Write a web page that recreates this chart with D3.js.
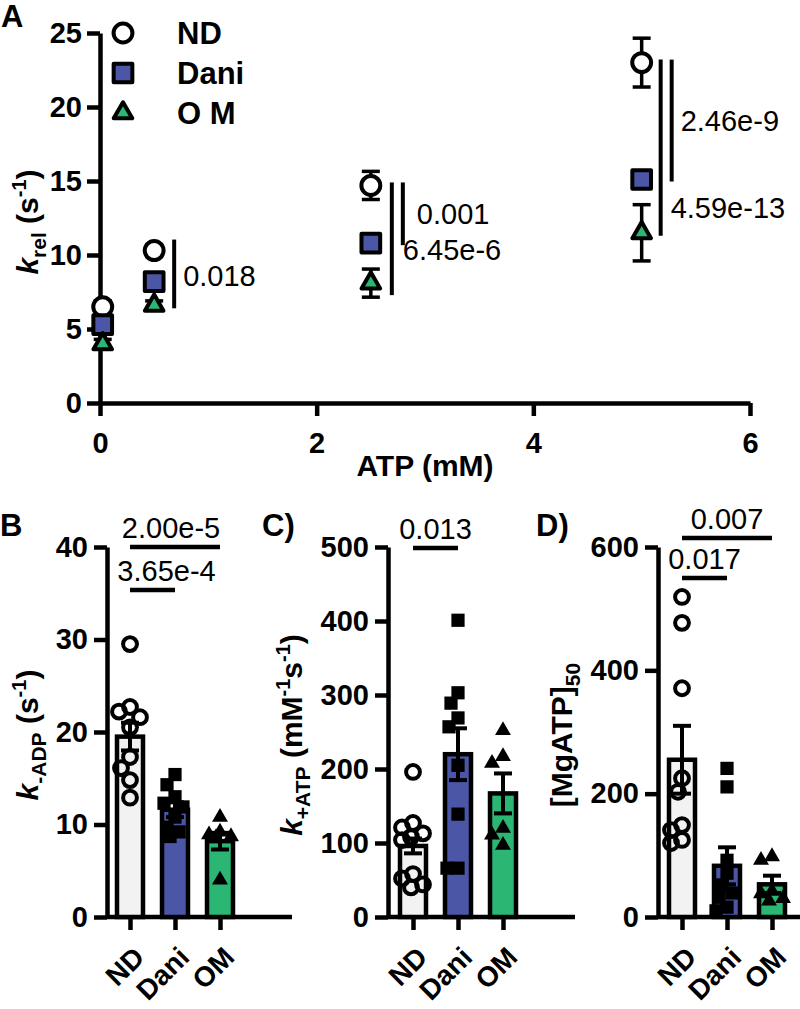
<!DOCTYPE html>
<html><head><meta charset="utf-8">
<script src="https://cdn.jsdelivr.net/npm/d3@7"></script>
<style>
body{margin:0;background:#fff}
svg{display:block}
text{font-family:"Liberation Sans",Arial,Helvetica,sans-serif}
</style>
</head><body>
<svg id="chart" width="800" height="1009"></svg>
<script>
// ---------------- DATA ----------------
const groups = ["ND", "Dani", "OM"];
const groupColors = ["#f2f2f2", "#4b56a6", "#2bb673"];

// Panel A: k_rel vs ATP
const atpMM = [0.025, 0.5, 2.5, 5];
const krelND = [6.5, 10.3, 14.7, 23.0];
const krelNDsem = [0.4, 0.4, 0.95, 1.65];
const krelDani = [5.3, 8.2, 10.8, 15.1];
const krelDaniSem = [0.3, 0.4, 0.4, 0.4];
const krelOM = [4.0, 6.6, 8.1, 11.5];
const krelOMsem = [0.3, 0.3, 0.95, 1.9];
const yTicksA = [0, 5, 10, 15, 20, 25];
const xTicksA = [0, 2, 4, 6];
const sigA = [
  {atp: 0.5, vs: "OM", p: "0.018"},
  {atp: 2.5, vs: "OM", p: "6.45e-6"},
  {atp: 2.5, vs: "Dani", p: "0.001"},
  {atp: 5, vs: "OM", p: "4.59e-13"},
  {atp: 5, vs: "Dani", p: "2.46e-9"}
];

// Panel B: k-ADP
const kADP_ND = [29.5, 22.7, 22.2, 21.6, 20.5, 17.3, 16.1, 14.8, 12.9];
const kADP_Dani = [15.4, 14.3, 13.0, 12.3, 11.9, 10.8, 9.7, 9.2, 8.7];
const kADP_OM = [10.8, 9.2, 8.9, 8.7, 8.6, 4.0];
const kADPmean = [19.5, 11.6, 8.2];
const kADPsem = [1.5, 0.8, 0.9];
const yTicksB = [0, 10, 20, 30, 40];
const sigB = [
  {a: "ND", b: "OM", p: "2.00e-5"},
  {a: "ND", b: "Dani", p: "3.65e-4"}
];

// Panel C: k+ATP
const kATP_ND = [196, 127, 121, 113, 108, 104, 58, 52, 44, 40];
const kATP_Dani = [401, 303, 289, 269, 257, 205, 139, 66, 66];
const kATP_OM = [252, 217, 208, 120, 111, 97];
const kATPmean = [96, 220, 167];
const kATPsem = [10, 35, 27];
const yTicksC = [0, 100, 200, 300, 400, 500];
const sigC = [
  {a: "ND", b: "Dani", p: "0.013"}
];

// Panel D: [MgATP]50
const mg_ND = [519, 477, 371, 225, 203, 149, 141, 125, 120];
const mg_Dani = [241, 211, 92, 71, 52, 39, 32, 16, 10];
const mg_OM = [98, 92, 42, 38, 30, 26];
const mgMean = [255, 83, 53];
const mgSem = [55, 30, 14];
const yTicksD = [0, 200, 400, 600];
const sigD = [
  {a: "ND", b: "OM", p: "0.007"},
  {a: "ND", b: "Dani", p: "0.017"}
];

// ---------------- DRAWING ----------------
const svg = d3.select("#chart");
const SW = 4.5;          // axis stroke
const TICK_FONT = 29;
const TITLE_FONT = 30;

function styleAxis(g) {
  g.selectAll("path.domain").attr("stroke", "#000").attr("stroke-width", SW);
  g.selectAll(".tick line").attr("stroke", "#000").attr("stroke-width", SW);
  g.selectAll(".tick text").attr("fill", "#000")
    .style("font-size", TICK_FONT + "px").style("font-weight", "bold")
    .style("font-family", '"Liberation Sans",Arial,sans-serif');
}

function panelLetter(txt, x, y) {
  svg.append("text").attr("x", x).attr("y", y).text(txt)
    .style("font-size", "31px").style("font-weight", "bold");
}

// rotated axis title with tspans
function yTitle(x, y, parts) {
  const t = svg.append("text")
    .attr("transform", `translate(${x},${y}) rotate(-90)`)
    .attr("text-anchor", "middle")
    .style("font-size", TITLE_FONT + "px").style("font-weight", "bold");
  let shift = 0;
  parts.forEach(p => {
    const ts = t.append("tspan").text(p.t);
    let target = 0;
    if (p.s === "sub") { target = 8; ts.style("font-size", "21px"); }
    else if (p.s === "sup") { target = -12; ts.style("font-size", "20px"); }
    else if (p.s === "i") { ts.style("font-style", "italic"); }
    if (target !== shift) { ts.attr("dy", target - shift); shift = target; }
  });
}

// ---------- Panel A ----------
const xA = d3.scaleLinear().domain([0, 6]).range([100, 750]);
const yA = d3.scaleLinear().domain([0, 25]).range([403, 33]);

const gAy = svg.append("g").attr("transform", `translate(${xA(0)},0)`)
  .call(d3.axisLeft(yA).tickValues(yTicksA).tickFormat(d3.format("d")).tickSize(13).tickSizeOuter(0).tickPadding(5));
styleAxis(gAy);
const gAx = svg.append("g").attr("transform", `translate(0,${yA(0)})`)
  .call(d3.axisBottom(xA).tickValues(xTicksA).tickFormat(d3.format("d")).tickSize(13).tickSizeOuter(0).tickPadding(16));
styleAxis(gAx);

panelLetter("A", 1, 27);
yTitle(38, 222, [{t: "k", s: "i"}, {t: "rel", s: "sub"}, {t: " (s", s: ""}, {t: "-1", s: "sup"}, {t: ")", s: ""}]);
svg.append("text").attr("x", (xA(0) + xA(6)) / 2).attr("y", 476).attr("text-anchor", "middle")
  .text("ATP (mM)").style("font-size", TITLE_FONT + "px").style("font-weight", "bold");

const seriesA = [
  {name: "ND", v: krelND, e: krelNDsem, sym: d3.symbolCircle, size: 280, fill: "#ffffff"},
  {name: "Dani", v: krelDani, e: krelDaniSem, sym: d3.symbolSquare, size: 350, fill: groupColors[1]},
  {name: "OM", v: krelOM, e: krelOMsem, sym: d3.symbolTriangle, size: 150, fill: groupColors[2]}
];

// error bars (under markers)
seriesA.forEach(s => {
  const g = svg.append("g").attr("stroke", "#000").attr("stroke-width", 3.5);
  atpMM.forEach((a, i) => {
    const x = xA(a), y1 = yA(s.v[i] + s.e[i]), y2 = yA(s.v[i] - s.e[i]);
    g.append("line").attr("x1", x).attr("x2", x).attr("y1", y1).attr("y2", y2);
    g.append("line").attr("x1", x - 9).attr("x2", x + 9).attr("y1", y1).attr("y2", y1);
    g.append("line").attr("x1", x - 9).attr("x2", x + 9).attr("y1", y2).attr("y2", y2);
  });
});
// markers
seriesA.forEach(s => {
  svg.append("g").selectAll("path").data(atpMM).join("path")
    .attr("transform", (a, i) => `translate(${xA(a)},${yA(s.v[i])})`)
    .attr("d", d3.symbol().type(s.sym).size(s.size))
    .attr("fill", s.fill).attr("stroke", "#000").attr("stroke-width", 4)
    .attr("stroke-linejoin", "round");
});

// legend
seriesA.forEach((s, i) => {
  const ly = 33 + i * 40;
  svg.append("path").attr("transform", `translate(123,${ly})`)
    .attr("d", d3.symbol().type(s.sym).size(s.size))
    .attr("fill", s.fill).attr("stroke", "#000").attr("stroke-width", 4).attr("stroke-linejoin", "round");
  svg.append("text").attr("x", 177).attr("y", ly).attr("dy", "0.36em")
    .text(s.name === "OM" ? "O M" : s.name)
    .style("font-size", "31px").style("font-weight", "bold");
});

// significance in A
const byName = {ND: krelND, Dani: krelDani, OM: krelOM};
const sigAlayout = {"0.018": {dx: 20, lab: 8.6, lx: 9}, "6.45e-6": {dx: 21, lab: 10.35, lx: 11},
  "0.001": {dx: 32, lab: 12.8, lx: 14}, "4.59e-13": {dx: 19, lab: 13.2, lx: 10}, "2.46e-9": {dx: 30, lab: 19.1, lx: 9}};
sigA.forEach(s => {
  const i = atpMM.indexOf(s.atp);
  const L = sigAlayout[s.p];
  const x = xA(s.atp) + L.dx;
  const top = s.atp === 0.5 ? yA(byName.ND[i]) - 11 : yA(byName.ND[i]) - 3;
  const bot = yA(byName[s.vs][i]) + (s.vs === "OM" ? (s.atp === 2.5 ? 12 : 3) : 2);
  svg.append("line").attr("x1", x).attr("x2", x).attr("y1", top).attr("y2", bot)
    .attr("stroke", "#000").attr("stroke-width", 4);
  svg.append("text").attr("x", x + L.lx).attr("y", yA(L.lab)).attr("dy", "0.36em").text(s.p)
    .style("font-size", "29px");
});

// ---------- Bar panels ----------
function beeswarm(values, y, cx, minDist, maxOff) {
  const placed = [];
  const order = values.map((v, i) => i).sort((a, b) => values[b] - values[a]);
  const out = new Array(values.length);
  order.forEach(i => {
    const py = y(values[i]);
    let best = 0, bestScore = -1;
    for (let k = 0; k <= maxOff * 2; k++) {
      const off = (k % 2 === 0 ? 1 : -1) * Math.ceil(k / 2);
      let md = Infinity;
      placed.forEach(p => { md = Math.min(md, Math.hypot(p[0] - off, p[1] - py)); });
      if (md >= minDist) { best = off; bestScore = Infinity; break; }
      if (md > bestScore) { bestScore = md; best = off; }
    }
    placed.push([best, py]);
    out[i] = [cx + best, py];
  });
  return out;
}

function barPanel(cfg) {
  const x = d3.scalePoint().domain(groups).range(cfg.centers);
  const y = d3.scaleLinear().domain(cfg.domain).range([917, 547]);
  const ax = cfg.axisX;
  const gy = svg.append("g").attr("transform", `translate(${ax},0)`)
    .call(d3.axisLeft(y).tickValues(cfg.ticks).tickSize(13).tickSizeOuter(0).tickPadding(6));
  styleAxis(gy);
  // x baseline
  svg.append("line").attr("x1", ax).attr("x2", cfg.centers[1] + 72).attr("y1", y(0)).attr("y2", y(0))
    .attr("stroke", "#000").attr("stroke-width", SW);
  const gx = svg.append("g").attr("transform", `translate(0,${y(0)})`)
    .call(d3.axisBottom(x).tickSize(13).tickSizeOuter(0).tickFormat(() => ""));
  gx.select("path.domain").remove();
  styleAxis(gx);
  // rotated group labels
  groups.forEach(gname => {
    svg.append("text")
      .attr("transform", `translate(${x(gname) + 9},${y(0) + 35}) rotate(-45)`)
      .attr("text-anchor", "end").attr("dy", "0.35em").text(gname)
      .style("font-size", "28px").style("font-weight", "bold");
  });
  // bars
  groups.forEach((gname, i) => {
    svg.append("rect").attr("x", x(gname) - 13).attr("width", 26)
      .attr("y", y(cfg.mean[i])).attr("height", y(0) - y(cfg.mean[i]))
      .attr("fill", groupColors[i]).attr("stroke", "#000").attr("stroke-width", SW);
  });
  // points
  const shapes = [
    {sym: d3.symbolCircle, size: 150, fill: "none", stroke: "#000", sw: 4},
    {sym: d3.symbolSquare, size: 175, fill: "#000", stroke: "none", sw: 0},
    {sym: d3.symbolTriangle, size: 110, fill: "#000", stroke: "none", sw: 0}
  ];
  groups.forEach((gname, i) => {
    const pos = beeswarm(cfg.points[i], y, x(gname), i === 0 ? 14 : 12.5, 11);
    const sh = shapes[i];
    svg.append("g").selectAll("path").data(pos).join("path")
      .attr("transform", d => `translate(${d[0]},${d[1]})`)
      .attr("d", d3.symbol().type(sh.sym).size(sh.size))
      .attr("fill", sh.fill).attr("stroke", sh.stroke).attr("stroke-width", sh.sw);
  });
  // error bars
  groups.forEach((gname, i) => {
    const cx = x(gname), y1 = y(cfg.mean[i] + cfg.sem[i]), y2 = y(cfg.mean[i] - cfg.sem[i]);
    const g = svg.append("g").attr("stroke", "#000").attr("stroke-width", 4);
    g.append("line").attr("x1", cx).attr("x2", cx).attr("y1", y1).attr("y2", y2);
    g.append("line").attr("x1", cx - 9).attr("x2", cx + 9).attr("y1", y1).attr("y2", y1);
    g.append("line").attr("x1", cx - 9).attr("x2", cx + 9).attr("y1", y2).attr("y2", y2);
  });
  // significance
  cfg.sig.forEach((s, k) => {
    const ly = cfg.sigY[k];
    const x1 = x(s.a), x2 = x(s.b);
    svg.append("line").attr("x1", x1).attr("x2", x2).attr("y1", ly).attr("y2", ly)
      .attr("stroke", "#000").attr("stroke-width", 4.5);
    svg.append("text").attr("x", (x1 + x2) / 2 + (cfg.sigDx ? cfg.sigDx[k] : 0)).attr("y", ly - 9)
      .attr("text-anchor", "middle").text(s.p).style("font-size", "29px");
  });
  panelLetter(cfg.letter, cfg.letterX, 536);
  yTitle(cfg.titleX, 735, cfg.title);
}

barPanel({
  centers: [130, 220], domain: [0, 40], ticks: yTicksB, axisX: 107,
  mean: kADPmean, sem: kADPsem, points: [kADP_ND, kADP_Dani, kADP_OM],
  sig: sigB, sigY: [547, 590], sigDx: [-4, 14],
  letter: "B", letterX: 0, titleX: 38,
  title: [{t: "k", s: "i"}, {t: "-ADP", s: "sub"}, {t: " (s", s: ""}, {t: "-1", s: "sup"}, {t: ")", s: ""}]
});
barPanel({
  centers: [413, 503], domain: [0, 500], ticks: yTicksC, axisX: 388,
  mean: kATPmean, sem: kATPsem, points: [kATP_ND, kATP_Dani, kATP_OM],
  sig: sigC, sigY: [548],
  letter: "C)", letterX: 262, titleX: 302,
  title: [{t: "k", s: "i"}, {t: "+ATP", s: "sub"}, {t: " (mM", s: ""}, {t: "-1", s: "sup"}, {t: "s", s: ""}, {t: "-1", s: "sup"}, {t: ")", s: ""}]
});
barPanel({
  centers: [682, 772], domain: [0, 600], ticks: yTicksD, axisX: 658,
  mean: mgMean, sem: mgSem, points: [mg_ND, mg_Dani, mg_OM],
  sig: sigD, sigY: [538, 578],
  letter: "D)", letterX: 536, titleX: 572,
  title: [{t: "[MgATP]", s: ""}, {t: "50", s: "sub"}]
});
</script>
</body></html>
